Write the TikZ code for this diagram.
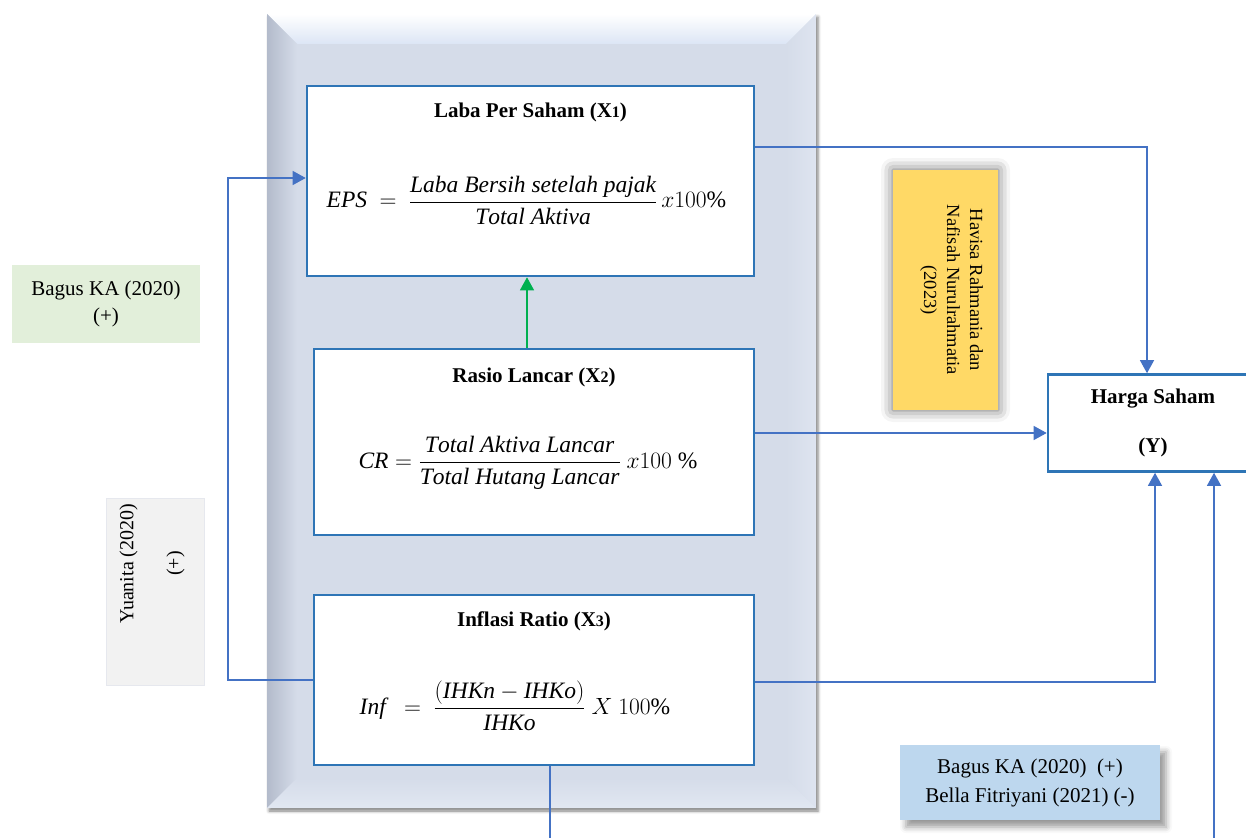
\RequirePackage{fix-cm}
\documentclass[tikz,border=0pt]{standalone}
\usepackage{amsmath}
\usepackage{fontspec}
\setmainfont{Liberation Serif}
\usetikzlibrary{arrows.meta, calc, shadows.blur}

\definecolor{boxblue}{HTML}{2E75B6}
\definecolor{linkblue}{HTML}{4472C4}
\definecolor{flowgreen}{HTML}{00B050}
\definecolor{noteyellow}{HTML}{FFD966}
\definecolor{notegreen}{HTML}{E2EFDA}
\definecolor{notegrey}{HTML}{F2F2F2}
\definecolor{notegreyline}{HTML}{E6E8EE}
\definecolor{noteblue}{HTML}{BDD7EE}
\definecolor{panelface}{HTML}{D5DCE9}
\definecolor{beveldark}{HTML}{B3BBCB}
\definecolor{bevellight}{HTML}{DCE5F5}
\definecolor{bevelright}{HTML}{DEE4F0}
\definecolor{bevelbottom}{HTML}{E1E7F2}

\newcommand{\idx}[1]{{\fontsize{16}{16}\selectfont #1}} % small index digit of a variable

\tikzset{
	varbox/.style={draw=boxblue, line width=2.6pt, fill=white, inner sep=0pt},
	notebox/.style={inner sep=0pt, align=center, font=\fontsize{21}{27}\selectfont},
	head/.style={font=\fontsize{21}{25}\selectfont\bfseries},
	formula/.style={font=\fontsize{23.5}{28}\selectfont},
	link/.style={draw=linkblue, line width=1.3pt, -{Triangle[length=13pt,width=14pt]}},
	plain/.style={draw=linkblue, line width=1.3pt},
}

\begin{document}
\begin{tikzpicture}[x=1pt, y=-1pt]
	\useasboundingbox (0,0) rectangle (1246,837);
	\clip (0,0) rectangle (1246,837);
		% bevelled panel behind the variables
		\fill[panelface, blur shadow={shadow xshift=2pt, shadow yshift=-3pt, shadow blur radius=3pt, shadow opacity=50}] (267,14) rectangle (816,808);
		\shade[top color=white, bottom color=bevellight] (267,14) -- (816,14) -- (786,44) -- (297,44) -- cycle;
		\shade[left color=beveldark, right color=panelface] (267,14) -- (297,44) -- (297,778) -- (267,808) -- cycle;
		\shade[left color=panelface, right color=bevelright] (816,14) -- (786,44) -- (786,778) -- (816,808) -- cycle;
		\shade[top color=panelface, bottom color=bevelbottom] (267,808) -- (297,778) -- (786,778) -- (816,808) -- cycle;

		% variables
		\node[varbox, minimum width=447pt, minimum height=190pt] (X1) at (530.5,181) {};
		\node[head] (X1head) at ($(X1.north)+(0,28)$) {Laba Per Saham (X\idx{1})};
		\node[formula] (X1eq) at ($(X1.center)+(-4,19)$) {$\mathit{EPS}\ =\ \dfrac{\mathit{Laba\ Bersih\ setelah\ pajak}}{\mathit{Total\ Aktiva}}\,x100\%$};

		\node[varbox, minimum width=440pt, minimum height=186pt] (X2) at (534,442) {};
		\node[head] (X2head) at ($(X2.north)+(0,30)$) {Rasio Lancar (X\idx{2})};
		\node[formula] (X2eq) at ($(X2.center)+(-6,21)$) {$\mathit{CR}=\dfrac{\mathit{Total\ Aktiva\ Lancar}}{\mathit{Total\ Hutang\ Lancar}}\ x100\ \%$};

		\node[varbox, minimum width=440pt, minimum height=170pt] (X3) at (534,680) {};
		\node[head] (X3head) at ($(X3.north)+(0,28)$) {Inflasi Ratio (X\idx{3})};
		\node[formula] (X3eq) at ($(X3.center)+(-19,26)$) {$\mathit{Inf}\ \ =\ \dfrac{(\mathit{IHKn}-\mathit{IHKo})}{\mathit{IHKo}}\ X\ 100\%$};

		\node[varbox, head, align=center, minimum width=210pt, minimum height=97pt] (Y) at (1153,423) {Harga Saham\\[24pt](Y)};

		% notes on earlier studies
		\node[fill=noteyellow, minimum width=105pt, minimum height=240pt, blur shadow={shadow xshift=0pt, shadow yshift=0pt, shadow blur radius=12pt, shadow opacity=60}] (havisa) at (945.5,290) {};
		\node[rotate=-90, align=center, font=\fontsize{18.5}{23}\selectfont] (havisatext) at ($(havisa.center)+(6,0)$) {Havisa Rahmania dan\\Nafisah Nurulrahmatia\\(2023)};

		\node[notebox, fill=notegreen, minimum width=188pt, minimum height=78pt] (bagus) at (106,304) {Bagus KA (2020)\\(+)};

		\node[fill=notegrey, draw=notegreyline, line width=0.8pt, minimum width=98pt, minimum height=187pt] (yuanita) at (155,591.5) {};
		\node[rotate=90, align=center, font=\fontsize{20}{25}\selectfont] (yuanitatext) at ($(yuanita.center)+(-3,-28)$) {Yuanita (2020)\\[22pt](+)};

		\node[notebox, font=\fontsize{21}{29}\selectfont, fill=noteblue, minimum width=260pt, minimum height=75pt, blur shadow={shadow xshift=6pt, shadow yshift=-7pt, shadow blur radius=6pt}] (bagusbella) at (1030,782.5) {Bagus KA (2020)~~(+)\\Bella Fitriyani (2021) (-)};

		% influences on the share price
		\draw[link] ([yshift=34pt]X1.east) -| ([xshift=-6pt]Y.north);
		\draw[link] ([yshift=9pt]X2.east) -- ([yshift=-10pt]Y.west);
		\draw[link] ([yshift=-2pt]X3.east) -| ([xshift=2pt]Y.south);
		\coordinate (below) at (1214,845);
		\draw[link] (below) -- ([xshift=61pt]Y.south);
		\coordinate (drop) at (550,845);
		\draw[plain] ([xshift=16pt]X3.south) -- (drop);
		\draw[link, draw=flowgreen] ([xshift=-7pt]X2.north) -- ([xshift=-3.5pt]X1.south);
		\coordinate (rail) at (228,680);
		\draw[link] (X3.west) -- (rail) |- ([yshift=3pt]X1.west);
\end{tikzpicture}
\end{document}
